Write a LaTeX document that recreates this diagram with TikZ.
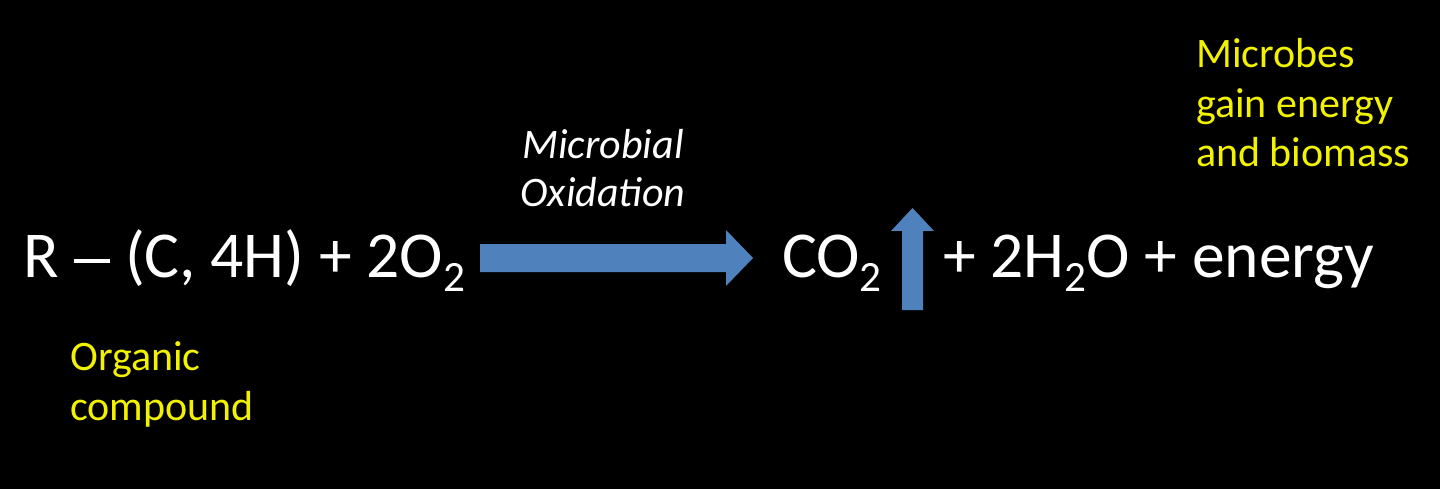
\documentclass[tikz,border=0pt]{standalone}
\usepackage{fontspec}
\setmainfont{Carlito}
\newcommand{\chemsubs}[1]{\raisebox{-0.22em}{\scalebox{0.66}{#1}}}
\newcommand{\bonddash}{\rule[0.21em]{0.56em}{0.065em}}
\definecolor{arrowblue}{HTML}{4F81BD}
\definecolor{noteyellow}{HTML}{F2F200}
\begin{document}
\begin{tikzpicture}[x=1pt,y=-1pt,
  eqtext/.style={inner sep=0pt,anchor=base west,text=white,font=\fontsize{65.5}{78}\selectfont},
  note/.style={inner sep=0pt,anchor=base west,text=noteyellow,align=left,font=\fontsize{42}{49.5}\selectfont},
  procnote/.style={inner sep=0pt,anchor=base,text=white,align=center,font=\fontsize{42}{48.5}\selectfont\itshape},
  blockarrow/.style={fill=arrowblue,draw=none}]
\fill[black] (0,0) rectangle (1440,489);
\useasboundingbox (0,0) rectangle (1440,489);
\node[eqtext] (lhs) at (23,277) {R \bonddash{} (C, 4H) + 2O\chemsubs{2}};
\node[eqtext] (co2) at (782,277) {CO\chemsubs{2}};
\node[eqtext] (rhs) at (943,277) {+ 2H\chemsubs{2}O + energy};
\node[procnote] (proc) at (603,207) {Microbial\\Oxidation};
\node[note] (microbes) at (1196,167) {Microbes\\gain energy\\and biomass};
\node[note] (organic) at (70,420) {Organic\\compound};
% horizontal block arrow
\fill[blockarrow] (480,244) -- (726,244) -- (726,230) -- (753,258) -- (726,286) -- (726,272) -- (480,272) -- cycle;
% vertical block arrow
\fill[blockarrow] (902,310) -- (902,231) -- (891,231) -- (912.5,208) -- (934,231) -- (923,231) -- (923,310) -- cycle;
\end{tikzpicture}
\end{document}
